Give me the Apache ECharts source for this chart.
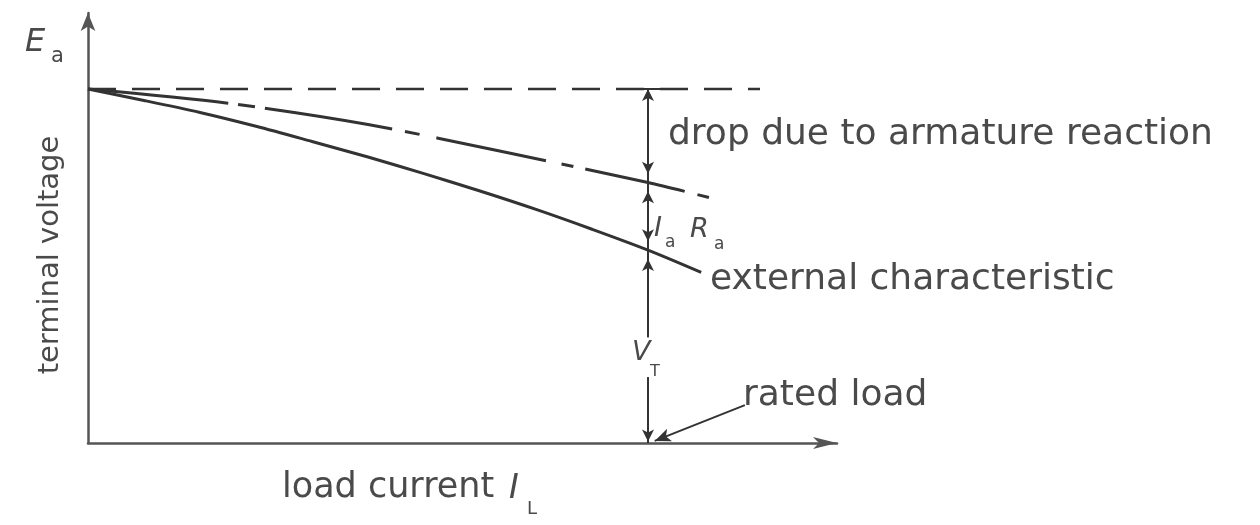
<!DOCTYPE html>
<html>
<head>
<meta charset="utf-8">
<title>External characteristic of a separately excited DC generator</title>
<script src="https://cdn.jsdelivr.net/npm/echarts@6/dist/echarts.min.js"></script>
<style>
  html, body { margin: 0; padding: 0; background: #ffffff; }
  #chart { width: 1260px; height: 525px; }
</style>
</head>
<body>
<div id="chart"></div>
<script>
// Load current in per unit of rated load, voltage in per unit of Ea.
const RATED_LOAD = 1.0;
const EA = 1.0;

// Generated EMF Ea (no-load level), drawn as a dashed reference line.
const emfCurrent = [0, 1.2];
const emfVoltage = [EA, EA];

// Voltage after the armature-reaction drop (dash-dot curve).
const armCurrent = [0, 0.25, 0.5, 0.75, 1.0, 1.11];
const armVoltage = [1.0, 0.96, 0.9, 0.82, 0.736, 0.693];

// External characteristic: terminal voltage V_T vs load current.
const extCurrent = [0, 0.1, 0.2, 0.3, 0.4, 0.5, 0.6, 0.7, 0.8, 0.9, 1.0, 1.095];
const extVoltage = [1.0, 0.968, 0.934, 0.895, 0.852, 0.808, 0.761, 0.712, 0.66, 0.604, 0.545, 0.482];

const pairs = (xs, ys) => xs.map((x, i) => [x, ys[i]]);
const valueAt = (xs, ys, x) => ys[xs.indexOf(x)];

const vArm = valueAt(armCurrent, armVoltage, RATED_LOAD);   // level after armature reaction
const vTerm = valueAt(extCurrent, extVoltage, RATED_LOAD);  // terminal voltage at rated load
const inset = 0.025;                                          // arrow tips stop short of the curves
const labelGap = [0.299, 0.186];                              // break in the V_T dimension line for its label

const INK = '#333333';
const TEXT = '#4a4a4a';
const FONT = '"DejaVu Sans", "Liberation Sans", sans-serif';

const chart = echarts.init(document.getElementById('chart'), null, { renderer: 'canvas' });

const dimLine = (a, b, arrows) => [
  { coord: [RATED_LOAD, a], symbol: arrows[0] },
  { coord: [RATED_LOAD, b], symbol: arrows[1] }
];

chart.setOption({
  animation: false,
  backgroundColor: '#ffffff',
  grid: { left: 88, right: 423, top: 13, bottom: 82 },
  xAxis: {
    type: 'value', min: 0, max: 1.3375,
    axisLine: { show: true, symbol: ['none', 'arrow'], symbolSize: [9, 24],
                lineStyle: { color: '#555', width: 2.5 } },
    axisTick: { show: false }, axisLabel: { show: false }, splitLine: { show: false }
  },
  yAxis: {
    type: 'value', min: 0, max: 1.215,
    axisLine: { show: true, symbol: ['none', 'arrow'], symbolSize: [11, 18],
                lineStyle: { color: '#555', width: 2.5 } },
    axisTick: { show: false }, axisLabel: { show: false }, splitLine: { show: false }
  },
  series: [
    {
      name: 'Ea', type: 'line', data: pairs(emfCurrent, emfVoltage),
      showSymbol: false, silent: true,
      lineStyle: { color: INK, width: 2.5, type: [28, 16] }
    },
    {
      name: 'after armature reaction', type: 'line', data: pairs(armCurrent, armVoltage),
      smooth: 0.3, showSymbol: false, silent: true,
      lineStyle: { color: INK, width: 3,
                   type: [141, 10, 17, 10, 129, 13, 15, 17, 112, 16, 12, 12, 102, 13, 12, 40] }
    },
    {
      name: 'external characteristic', type: 'line', data: pairs(extCurrent, extVoltage),
      smooth: 0.3, showSymbol: false, silent: true,
      lineStyle: { color: INK, width: 3 }
    },
    {
      // Dimension lines at rated load
      name: 'dimensions', type: 'line', data: [], silent: true,
      markLine: {
        silent: true,
        symbolSize: [9, 12],
        label: { show: false },
        lineStyle: { color: INK, width: 2, type: 'solid' },
        data: [
          dimLine(EA, labelGap[0], ['none', 'none']),
          dimLine(labelGap[1], 0, ['none', 'none']),
          dimLine(EA, vArm + inset, ['arrow', 'arrow']),
          dimLine(vArm - inset, vTerm + inset, ['arrow', 'arrow']),
          dimLine(vTerm - inset, labelGap[0], ['arrow', 'none']),
          dimLine(labelGap[1], 0.004, ['none', 'arrow']),
          [
            { coord: [RATED_LOAD - 0.025, EA], symbol: 'none' },
            { coord: [RATED_LOAD + 0.025, EA], symbol: 'none' }
          ],
          [
            { coord: [RATED_LOAD + 0.173, 0.107], symbol: 'none' },
            { coord: [RATED_LOAD + 0.012, 0.006], symbol: 'arrow', symbolSize: [10, 16] }
          ]
        ]
      }
    }
  ],
  graphic: [
    // Ea label
    { type: 'text', left: 25, top: 27,
      style: { text: 'E', font: 'italic 32px ' + FONT, fill: TEXT } },
    { type: 'text', left: 51, top: 46,
      style: { text: 'a', font: '21px ' + FONT, fill: TEXT } },
    // y-axis title
    { type: 'text', x: 50, y: 255, rotation: Math.PI / 2,
      style: { text: 'terminal voltage', font: '29px ' + FONT, fill: TEXT,
               align: 'center', verticalAlign: 'middle' } },
    // x-axis title
    { type: 'text', x: 282, y: 488,
      style: { text: 'load current', font: '35px ' + FONT, fill: TEXT,
               align: 'left', verticalAlign: 'middle' } },
    { type: 'text', x: 509, y: 489,
      style: { text: 'I', font: 'italic 33px ' + FONT, fill: TEXT,
               align: 'left', verticalAlign: 'middle' } },
    { type: 'text', x: 527, y: 509,
      style: { text: 'L', font: '18px ' + FONT, fill: TEXT,
               align: 'left', verticalAlign: 'middle' } },
    // annotations
    { type: 'text', x: 668, y: 135,
      style: { text: 'drop due to armature reaction', font: '36px ' + FONT, fill: TEXT,
               align: 'left', verticalAlign: 'middle' } },
    { type: 'text', x: 710, y: 280,
      style: { text: 'external characteristic', font: '36px ' + FONT, fill: TEXT,
               align: 'left', verticalAlign: 'middle' } },
    { type: 'text', x: 743, y: 396,
      style: { text: 'rated load', font: '36px ' + FONT, fill: TEXT,
               align: 'left', verticalAlign: 'middle' } },
    // Ia Ra
    { type: 'text', x: 654, y: 229,
      style: { text: 'I', font: 'italic 27px ' + FONT, fill: TEXT,
               align: 'left', verticalAlign: 'middle' } },
    { type: 'text', x: 665, y: 243,
      style: { text: 'a', font: '17px ' + FONT, fill: TEXT,
               align: 'left', verticalAlign: 'middle' } },
    { type: 'text', x: 690, y: 230,
      style: { text: 'R', font: 'italic 27px ' + FONT, fill: TEXT,
               align: 'left', verticalAlign: 'middle' } },
    { type: 'text', x: 714, y: 245,
      style: { text: 'a', font: '17px ' + FONT, fill: TEXT,
               align: 'left', verticalAlign: 'middle' } },
    // V_T
    { type: 'text', x: 632, y: 353,
      style: { text: 'V', font: 'italic 27px ' + FONT, fill: TEXT,
               align: 'left', verticalAlign: 'middle' } },
    { type: 'text', x: 650, y: 372,
      style: { text: 'T', font: '16px ' + FONT, fill: TEXT,
               align: 'left', verticalAlign: 'middle' } }
  ]
});
</script>
</body>
</html>
